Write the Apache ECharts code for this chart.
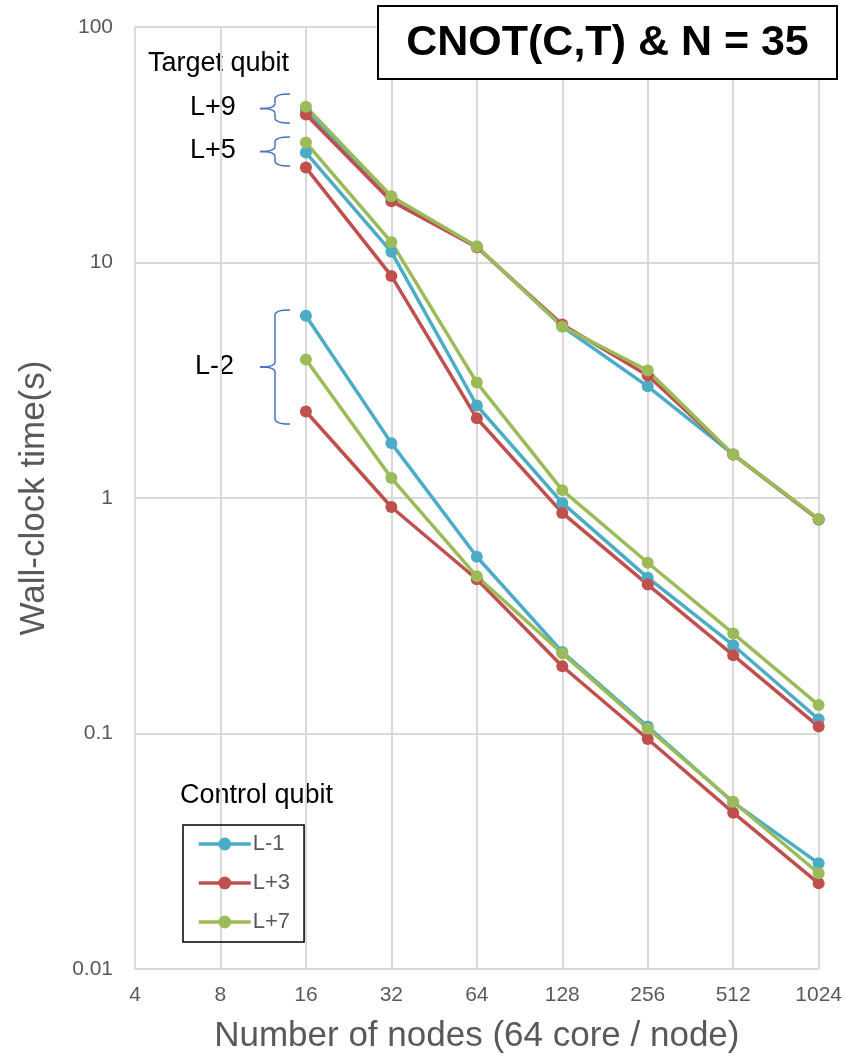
<!DOCTYPE html>
<html>
<head>
<meta charset="utf-8">
<script src="https://cdn.jsdelivr.net/npm/echarts@6/dist/echarts.min.js"></script>
<style>
  html, body { margin: 0; padding: 0; background: #fff; }
  #chart { width: 845px; height: 1059px; }
</style>
</head>
<body>
<div id="chart"></div>
<script>
// number of nodes (x categories)
const nodes = ['4', '8', '16', '32', '64', '128', '256', '512', '1024']
// measured points start at 16 nodes
const firstIdx = 2

// control qubit names / colors
const controls = ['L-1', 'L+3', 'L+7']
const colors = ['#4BACC6', '#C0504D', '#9BBB59']

// target qubit L+9
const t9_L1 = [44.0, 18.8, 11.7, 5.35, 2.98, 1.53, 0.81]
const t9_L3 = [42.5, 18.2, 11.6, 5.45, 3.31, 1.53, 0.81]
const t9_L7 = [45.9, 19.1, 11.7, 5.35, 3.48, 1.53, 0.815]

// target qubit L+5
const t5_L1 = [29.3, 11.1, 2.47, 0.953, 0.459, 0.237, 0.115]
const t5_L3 = [25.3, 8.77, 2.18, 0.864, 0.429, 0.215, 0.107]
const t5_L7 = [32.3, 12.2, 3.09, 1.08, 0.531, 0.266, 0.132]

// target qubit L-2
const t2_L1 = [5.94, 1.71, 0.563, 0.222, 0.107, 0.051, 0.0281]
const t2_L3 = [2.33, 0.916, 0.452, 0.193, 0.0948, 0.0461, 0.0231]
const t2_L7 = [3.87, 1.215, 0.465, 0.219, 0.105, 0.0513, 0.0255]

const groups = [
  [t9_L1, t9_L3, t9_L7],
  [t5_L1, t5_L3, t5_L7],
  [t2_L1, t2_L3, t2_L7]
]

const font = "'Liberation Sans', Arial, sans-serif"
const gridColor = '#d9d9d9'
const labelColor = '#595959'

const pad = (arr) => new Array(firstIdx).fill(null).concat(arr)

const series = []
groups.forEach((g) => {
  g.forEach((vals, i) => {
    series.push({
      name: controls[i],
      type: 'line',
      data: pad(vals),
      symbol: 'circle',
      symbolSize: 12,
      showSymbol: true,
      color: colors[i],
      lineStyle: { width: 3.5, color: colors[i] },
      itemStyle: { color: colors[i] },
      connectNulls: false,
      animation: false
    })
  })
})

// curly brace built from curves + lines (annotation only)
const braceStyle = { stroke: '#4472C4', lineWidth: 1.5, fill: 'none' }
const brace = (top, bottom) => {
  const mid = (top + bottom) / 2
  const xe = 290, xm = 275, xt = 260, r = 5
  const curve = (x1, y1, x2, y2, cx, cy) => ({
    type: 'bezierCurve',
    shape: { x1, y1, x2, y2, cpx1: cx, cpy1: cy },
    style: braceStyle
  })
  const line = (y1, y2) => ({
    type: 'line',
    shape: { x1: xm, y1, x2: xm, y2 },
    style: braceStyle
  })
  return [
    curve(xe, top, xm, top + r, xm, top),
    line(top + r, mid - r),
    curve(xm, mid - r, xt, mid, xm, mid),
    curve(xt, mid, xm, mid + r, xm, mid),
    line(mid + r, bottom - r),
    curve(xm, bottom - r, xe, bottom, xm, bottom)
  ]
}

const chart = echarts.init(document.getElementById('chart'))

const option = {
  animation: false,
  textStyle: { fontFamily: font },
  grid: { left: 135, right: 26, top: 27, bottom: 86, containLabel: false },
  legend: {
    data: controls,
    orient: 'vertical',
    left: 183,
    top: 825,
    padding: [8, 14, 9, 14],
    itemGap: 17,
    itemWidth: 52,
    itemHeight: 16,
    borderColor: '#000',
    borderWidth: 1.5,
    lineStyle: { width: 3.5 },
    textStyle: { fontSize: 22, color: labelColor, fontFamily: font, padding: [0, 0, 0, -3] }
  },
  xAxis: {
    type: 'category',
    data: nodes,
    boundaryGap: false,
    name: 'Number of nodes (64 core / node)',
    nameLocation: 'middle',
    nameGap: 50,
    nameTextStyle: { fontSize: 35, color: labelColor, fontFamily: font },
    axisLine: { lineStyle: { color: gridColor, width: 2 } },
    axisTick: { show: false },
    axisLabel: { fontSize: 21, color: labelColor, margin: 16, fontFamily: font },
    splitLine: { show: true, lineStyle: { color: gridColor, width: 2 } }
  },
  yAxis: {
    type: 'log',
    logBase: 10,
    min: 0.01,
    max: 100,
    name: 'Wall-clock time(s)',
    nameLocation: 'middle',
    nameGap: 83,
    nameTextStyle: { fontSize: 35, color: labelColor, fontFamily: font },
    axisLine: { show: true, lineStyle: { color: gridColor, width: 2 } },
    axisTick: { show: false },
    axisLabel: { fontSize: 21, color: labelColor, margin: 22, fontFamily: font },
    splitLine: { show: true, lineStyle: { color: gridColor, width: 2 } }
  },
  graphic: [
    {
      type: 'rect',
      shape: { x: 378, y: 6, width: 459, height: 73 },
      style: { fill: '#fff', stroke: '#000', lineWidth: 2 },
      z: 100
    },
    {
      type: 'text',
      x: 607.5, y: 43,
      style: {
        text: 'CNOT(C,T) & N = 35',
        font: `bold 43px ${font}`,
        fill: '#000',
        textAlign: 'center',
        textVerticalAlign: 'middle'
      },
      z: 101
    },
    {
      type: 'text', x: 148, y: 64,
      style: { text: 'Target qubit', font: `27px ${font}`, fill: '#000', textVerticalAlign: 'middle' }
    },
    {
      type: 'text', x: 190, y: 108,
      style: { text: 'L+9', font: `27px ${font}`, fill: '#000', textVerticalAlign: 'middle' }
    },
    {
      type: 'text', x: 190, y: 151,
      style: { text: 'L+5', font: `27px ${font}`, fill: '#000', textVerticalAlign: 'middle' }
    },
    {
      type: 'text', x: 195, y: 367,
      style: { text: 'L-2', font: `27px ${font}`, fill: '#000', textVerticalAlign: 'middle' }
    },
    {
      type: 'text', x: 180, y: 796,
      style: { text: 'Control qubit', font: `27px ${font}`, fill: '#000', textVerticalAlign: 'middle' }
    },
    ...brace(94, 123),
    ...brace(137, 166),
    ...brace(310, 424)
  ],
  series: series
}

chart.setOption(option)
</script>
</body>
</html>
